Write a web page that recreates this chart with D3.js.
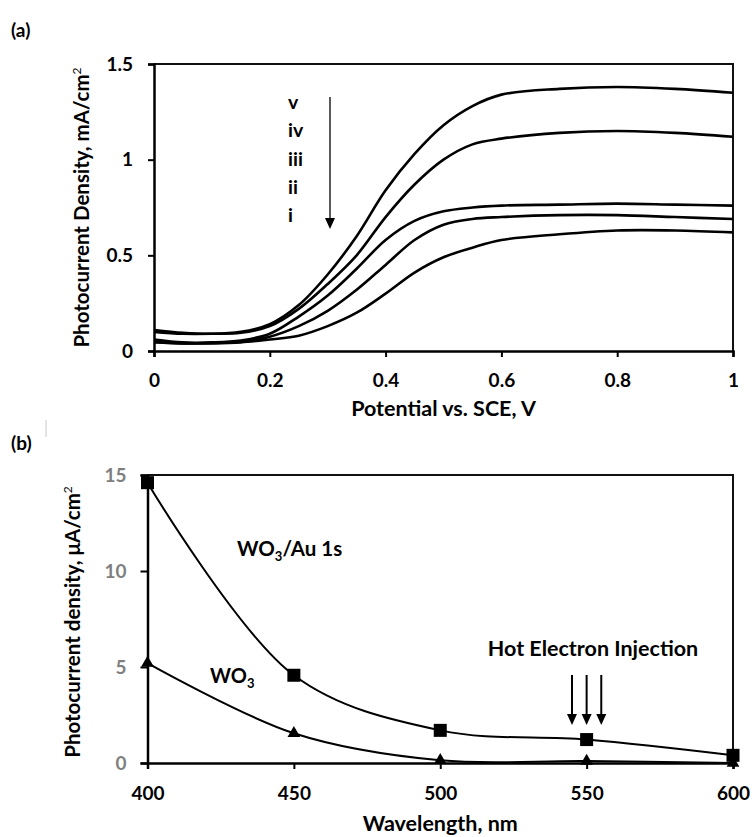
<!DOCTYPE html>
<html>
<head>
<meta charset="utf-8">
<script src="https://cdn.jsdelivr.net/npm/d3@7"></script>
<style>
  body { margin: 0; background: #fff; }
  text { font-family: 'Lato', sans-serif; font-weight: 700; }
</style>
</head>
<body>
<div id="chart"></div>
<script>
const width = 753;
const height = 837;

// panel (a): photocurrent vs potential
const potential = [0, 0.05, 0.1, 0.15, 0.2, 0.25, 0.3, 0.35, 0.4, 0.45, 0.5, 0.55, 0.6, 0.7, 0.8, 0.9, 1.0];
const curveV   = [0.11, 0.095, 0.09, 0.10, 0.14, 0.24, 0.40, 0.60, 0.84, 1.03, 1.18, 1.28, 1.34, 1.37, 1.38, 1.37, 1.35];
const curveIV  = [0.10, 0.09, 0.09, 0.095, 0.13, 0.22, 0.35, 0.50, 0.70, 0.87, 1.00, 1.08, 1.11, 1.14, 1.15, 1.14, 1.12];
const curveIII = [0.06, 0.045, 0.045, 0.055, 0.09, 0.18, 0.29, 0.43, 0.58, 0.68, 0.73, 0.75, 0.76, 0.765, 0.77, 0.765, 0.76];
const curveII  = [0.05, 0.04, 0.042, 0.05, 0.075, 0.13, 0.21, 0.32, 0.45, 0.58, 0.66, 0.69, 0.70, 0.71, 0.71, 0.70, 0.69];
const curveI   = [0.045, 0.04, 0.04, 0.045, 0.06, 0.08, 0.13, 0.20, 0.30, 0.41, 0.49, 0.54, 0.58, 0.61, 0.63, 0.63, 0.62];
const curveNames = ['v', 'iv', 'iii', 'ii', 'i'];
const potentialTicks = [0, 0.2, 0.4, 0.6, 0.8, 1];
const densityTicks = [0, 0.5, 1, 1.5];

// panel (b): photocurrent vs wavelength
const wavelength = [400, 450, 500, 550, 600];
const wo3Au = [14.6, 4.57, 1.7, 1.22, 0.4];
const wo3 = [5.2, 1.55, 0.14, 0.1, 0.0];
const wavelengthTicks = [400, 450, 500, 550, 600];
const microTicks = [0, 5, 10, 15];
const injectionWavelengths = [545, 550, 555];

const svg = d3.select('#chart')
    .append('svg')
    .attr('width', width)
    .attr('height', height);

createPanelA();
createPanelB();

function styleAxis(g) {
    g.select('.domain').attr('stroke', '#000').attr('stroke-width', 2.5);
    g.selectAll('.tick line').attr('stroke', '#000').attr('stroke-width', 2);
    g.selectAll('.tick text')
        .attr('font-family', 'Lato, sans-serif')
        .attr('font-weight', 700)
        .attr('font-size', '19px');
}

function createPanelA() {
    const box = { left: 154, right: 733, top: 64, bottom: 351 };

    const x = d3.scaleLinear().domain([0, 1]).range([box.left, box.right]);
    const y = d3.scaleLinear().domain([0, 1.5]).range([box.bottom, box.top]);

    svg.append('text')
        .attr('x', 11).attr('y', 37)
        .attr('font-size', '19px')
        .text('(a)');

    // frame top/right
    svg.append('path')
        .attr('d', `M${box.left},${box.top}H${box.right}V${box.bottom}`)
        .attr('fill', 'none')
        .attr('stroke', '#111')
        .attr('stroke-width', 2);

    const series = [curveV, curveIV, curveIII, curveII, curveI];
    const line = d3.line()
        .x((d, i) => x(potential[i]))
        .y((d) => y(d))
        .curve(d3.curveCatmullRom.alpha(0.5));

    svg.append('g')
        .selectAll('path')
        .data(series)
        .join('path')
        .attr('d', line)
        .attr('fill', 'none')
        .attr('stroke', '#000')
        .attr('stroke-width', 2.6);

    svg.append('g')
        .attr('transform', `translate(0,${box.bottom})`)
        .call(d3.axisBottom(x).tickValues(potentialTicks).tickFormat((d) => String(d)).tickSizeOuter(0).tickSize(6).tickPadding(17))
        .call(styleAxis);

    svg.append('g')
        .attr('transform', `translate(${box.left},0)`)
        .call(d3.axisLeft(y).tickValues(densityTicks).tickFormat((d) => String(d)).tickSizeOuter(0).tickSize(6).tickPadding(15))
        .call(styleAxis);

    // curve labels and arrow
    svg.append('g')
        .selectAll('text')
        .data(curveNames)
        .join('text')
        .attr('x', 288)
        .attr('y', (d, i) => 109 + i * 28.3)
        .attr('font-size', '19.5px')
        .text((d) => d);

    svg.append('line')
        .attr('x1', 330).attr('x2', 330)
        .attr('y1', 97).attr('y2', 220)
        .attr('stroke', '#000')
        .attr('stroke-width', 1.3);
    svg.append('path')
        .attr('d', 'M325,218L335,218L330,229Z')
        .attr('fill', '#000');

    svg.append('text')
        .attr('x', (box.left + box.right) / 2)
        .attr('y', 416)
        .attr('text-anchor', 'middle')
        .attr('font-size', '21.5px')
        .text('Potential vs. SCE, V');

    const yTitle = svg.append('text')
        .attr('transform', `translate(89,${(box.top + box.bottom) / 2}) rotate(-90)`)
        .attr('text-anchor', 'middle')
        .attr('font-size', '20.5px');
    yTitle.append('tspan').text('Photocurrent Density, mA/cm');
    yTitle.append('tspan').attr('dy', -8).attr('font-size', '12px').attr('font-weight', 400).text('2');
}

function createPanelB() {
    const box = { left: 147.5, right: 733, top: 475, bottom: 763 };

    const x = d3.scaleLinear().domain([400, 600]).range([box.left, box.right]);
    const y = d3.scaleLinear().domain([0, 15]).range([box.bottom, box.top]);

    svg.append('text')
        .attr('x', 11).attr('y', 450)
        .attr('font-size', '19px')
        .text('(b)');

    svg.append('line')
        .attr('x1', 46).attr('x2', 46)
        .attr('y1', 420).attr('y2', 437)
        .attr('stroke', '#c8c8c8')
        .attr('stroke-width', 1);

    svg.append('path')
        .attr('d', `M${box.left},${box.top}H${box.right}V${box.bottom}`)
        .attr('fill', 'none')
        .attr('stroke', '#111')
        .attr('stroke-width', 2);

    const line = d3.line()
        .x((d, i) => x(wavelength[i]))
        .y((d) => y(d))
        .curve(d3.curveCatmullRom.alpha(0.5));

    svg.append('g')
        .selectAll('path')
        .data([wo3Au, wo3])
        .join('path')
        .attr('d', line)
        .attr('fill', 'none')
        .attr('stroke', '#000')
        .attr('stroke-width', 2);

    svg.append('g')
        .attr('transform', `translate(0,${box.bottom})`)
        .call(d3.axisBottom(x).tickValues(wavelengthTicks).tickSizeOuter(0).tickSize(6).tickPadding(18))
        .call(styleAxis);

    const yAxis = svg.append('g')
        .attr('transform', `translate(${box.left},0)`)
        .call(d3.axisLeft(y).tickValues(microTicks).tickSizeOuter(0).tickSize(7).tickPadding(14))
        .call(styleAxis);
    yAxis.selectAll('.tick text').attr('fill', '#7f7f7f');

    // markers
    svg.append('g')
        .selectAll('rect')
        .data(wo3Au)
        .join('rect')
        .attr('x', (d, i) => x(wavelength[i]) - 6.5)
        .attr('y', (d) => y(d) - 6.5)
        .attr('width', 13)
        .attr('height', 13)
        .attr('fill', '#000');

    const tri = d3.symbol().type(d3.symbolTriangle).size(70);
    svg.append('g')
        .selectAll('path')
        .data(wo3)
        .join('path')
        .attr('transform', (d, i) => `translate(${x(wavelength[i])},${y(d)})`)
        .attr('d', tri)
        .attr('fill', '#000');

    // labels
    const auLabel = svg.append('text')
        .attr('x', 237).attr('y', 556)
        .attr('font-size', '20.5px');
    auLabel.append('tspan').text('WO');
    auLabel.append('tspan').attr('dy', 5).attr('font-size', '13px').text('3');
    auLabel.append('tspan').attr('dy', -5).text('/Au 1s');

    const wLabel = svg.append('text')
        .attr('x', 210).attr('y', 683)
        .attr('font-size', '20px');
    wLabel.append('tspan').text('WO');
    wLabel.append('tspan').attr('dy', 5).attr('font-size', '13px').text('3');

    svg.append('text')
        .attr('x', 593).attr('y', 656)
        .attr('text-anchor', 'middle')
        .attr('font-size', '21.5px')
        .text('Hot Electron Injection');

    const arrows = svg.append('g');
    arrows.selectAll('line')
        .data(injectionWavelengths)
        .join('line')
        .attr('x1', (d) => x(d)).attr('x2', (d) => x(d))
        .attr('y1', 675).attr('y2', 716)
        .attr('stroke', '#000')
        .attr('stroke-width', 2);
    arrows.selectAll('path')
        .data(injectionWavelengths)
        .join('path')
        .attr('d', (d) => `M${x(d) - 5},714L${x(d) + 5},714L${x(d)},725Z`)
        .attr('fill', '#000');

    svg.append('text')
        .attr('x', (box.left + box.right) / 2)
        .attr('y', 831)
        .attr('text-anchor', 'middle')
        .attr('font-size', '21.5px')
        .text('Wavelength, nm');

    const yTitle = svg.append('text')
        .attr('transform', `translate(80,${(box.top + box.bottom) / 2 + 3}) rotate(-90)`)
        .attr('text-anchor', 'middle')
        .attr('font-size', '20.5px');
    yTitle.append('tspan').text('Photocurrent density, μA/cm');
    yTitle.append('tspan').attr('dy', -8).attr('font-size', '12px').attr('font-weight', 400).text('2');
}
</script>
</body>
</html>
